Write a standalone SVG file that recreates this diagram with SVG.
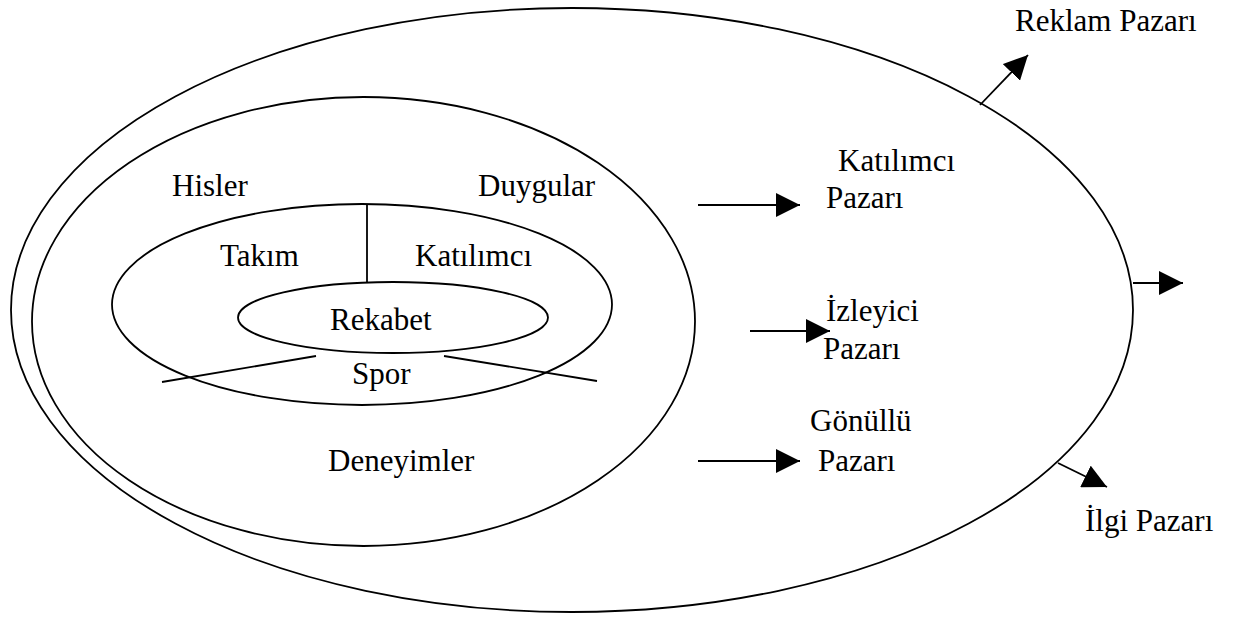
<svg xmlns="http://www.w3.org/2000/svg" width="1234" height="618" viewBox="0 0 1234 618">
<defs>
<style>
.s{fill:none;stroke:#000;stroke-width:1.8}
.t{font-family:"Liberation Serif","Times New Roman",serif;font-size:31px;fill:#000}
.c{stroke:#000;stroke-width:1.8;fill:none}
</style>
<marker id="ahb" viewBox="0 0 10 10" refX="10" refY="5" markerWidth="24" markerHeight="24" markerUnits="userSpaceOnUse" orient="auto">
<path d="M0,0 L10,5 L0,10 Z" fill="#000"/>
</marker>
</defs>
<rect width="1234" height="618" fill="#fff"/>
<g id="outer"><ellipse class="s" cx="572" cy="310" rx="561" ry="302"/></g>
<g id="middle"><ellipse class="s" cx="363.5" cy="321.5" rx="331.5" ry="224.5"/>
<text class="t" x="172" y="196">Hisler</text>
<text class="t" x="478" y="196">Duygular</text>
<text class="t" x="328" y="471">Deneyimler</text></g>
<g id="spor"><ellipse class="s" cx="362" cy="304.5" rx="250" ry="100.5"/>
<line class="s" x1="367" y1="204" x2="367" y2="282"/>
<line class="s" x1="162" y1="382" x2="316" y2="356"/>
<line class="s" x1="444" y1="356" x2="597" y2="381"/>
<text class="t" x="220" y="266">Takım</text>
<text class="t" x="415" y="266">Katılımcı</text>
<text class="t" x="352" y="384">Spor</text></g>
<g id="rekabet"><ellipse class="s" cx="393" cy="317.5" rx="155" ry="35.5"/>
<text class="t" x="330" y="330">Rekabet</text></g>
<g id="labels">
<text class="t" x="838" y="171">Katılımcı</text>
<text class="t" x="826" y="208">Pazarı</text>
<text class="t" x="826" y="321">İzleyici</text>
<text class="t" x="823" y="359">Pazarı</text>
<text class="t" x="810" y="431">Gönüllü</text>
<text class="t" x="818" y="471">Pazarı</text>
<text class="t" x="1015" y="31">Reklam Pazarı</text>
<text class="t" x="1085" y="531">İlgi Pazarı</text>
</g>
<g id="connectors">
<line class="c" x1="698" y1="205" x2="800" y2="205" marker-end="url(#ahb)"/>
<line class="c" x1="750" y1="331" x2="830" y2="331" marker-end="url(#ahb)"/>
<line class="c" x1="698" y1="461" x2="800" y2="461" marker-end="url(#ahb)"/>
<line class="c" x1="1133" y1="283" x2="1183" y2="283" marker-end="url(#ahb)"/>
<line class="c" x1="980" y1="105" x2="1028" y2="55" marker-end="url(#ahb)"/>
<line class="c" x1="1058" y1="463" x2="1107" y2="487" marker-end="url(#ahb)"/>
</g>
</svg>
